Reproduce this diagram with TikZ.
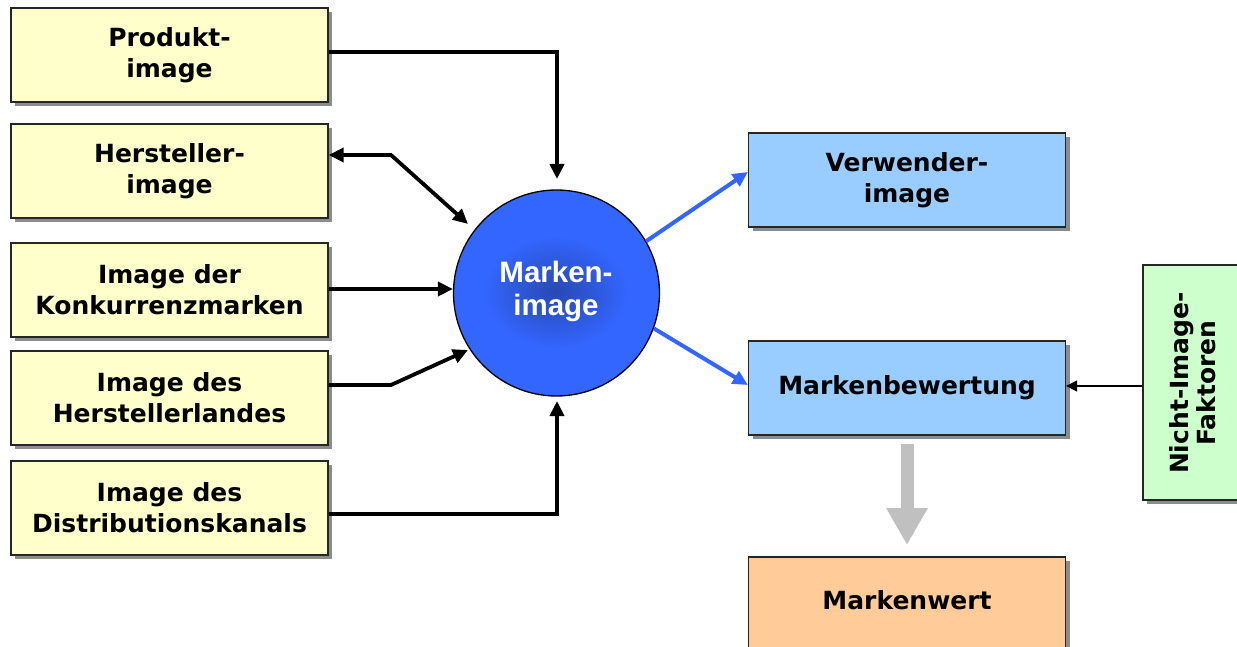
\documentclass[tikz,border=0pt]{standalone}
\usepackage{fontspec}
\setmainfont{DejaVu Sans}
\newfontfamily\circfont{Liberation Sans}
\usetikzlibrary{arrows.meta,shadows}

\definecolor{boxyellow}{HTML}{FFFFCC}
\definecolor{boxblue}{HTML}{99CCFF}
\definecolor{boxgreen}{HTML}{CCFFCC}
\definecolor{boxorange}{HTML}{FFCC99}
\definecolor{markblue}{HTML}{3366FF}
\definecolor{markdark}{HTML}{2848B4}
\definecolor{shadowgray}{HTML}{8C8C8C}
\definecolor{fatgray}{HTML}{C0C0C0}

\tikzset{
  card/.style={draw=black!85, line width=1.3pt, minimum width=317pt,
    minimum height=94pt, align=center, inner sep=0pt,
    font=\bfseries\fontsize{25}{31}\selectfont,
    drop shadow={shadow xshift=4pt, shadow yshift=-4pt, fill=shadowgray, opacity=1}},
  yellowcard/.style={card, fill=boxyellow},
  bluecard/.style={card, fill=boxblue},
  arr/.style={line width=3.8pt, -{Triangle[length=15pt,width=14pt]}},
  biarr/.style={line width=3.8pt, {Triangle[length=15pt,width=14pt]}-{Triangle[length=15pt,width=14pt]}},
  bluearr/.style={markblue, line width=4pt, -{Triangle[length=15pt,width=14pt]}},
  thinarr/.style={line width=1.6pt, -{Triangle[length=11pt,width=11pt]}},
}

\begin{document}
\begin{tikzpicture}[x=1pt, y=-1pt]
\useasboundingbox (0,0) rectangle (1237,647);

% influencing images
\node[yellowcard] (p1) at (169.5,55)  {Produkt-\\image};
\node[yellowcard] (p2) at (169.5,171) {Hersteller-\\image};
\node[yellowcard] (p3) at (169.5,290) {Image der\\Konkurrenzmarken};
\node[yellowcard] (p4) at (169.5,398) {Image des\\Herstellerlandes};
\node[yellowcard] (p5) at (169.5,508) {Image des\\Distributionskanals};

% brand image
\node[circle, draw=black, line width=1.3pt, fill=markblue, minimum size=206pt] (mi) at (556.5,293) {};
\shade[inner color=markdark, outer color=markblue] (556,292) ellipse (72 and 56);
\node[text=white, align=center, font=\circfont\bfseries\fontsize{29.5}{33}\selectfont] (mitxt) at (556,291) {Marken-\\image};

% outcomes
\node[bluecard] (v)  at (907,180) {Verwender-\\image};
\node[bluecard] (mb) at (907,388) {Markenbewertung};
\node[card, fill=boxorange] (mw) at (907,604) {};
\node[font=\bfseries\fontsize{25}{31}\selectfont] (mwtxt) at (907,600) {Markenwert};
\node[card, fill=boxgreen, minimum width=104pt, minimum height=235pt] (nb) at (1195,382.5) {};
\node[rotate=90, align=center, font=\bfseries\fontsize{25}{27}\selectfont] (nbtxt) at (1193,383) {Nicht-Image-\\Faktoren};

% helper points
\coordinate (c1) at (557,179);
\coordinate (b2) at (391,155);
\coordinate (t2) at (468,224);
\coordinate (b4) at (391,385);
\coordinate (t4) at (468,350);
\coordinate (c5) at (557,401);

% connectors into the brand image
\draw[arr] ([yshift=3pt]p1.east) -| (c1);
\draw[biarr] ([yshift=16pt]p2.east) -- (b2) -- (t2);
\draw[arr] ([yshift=1pt]p3.east) -- ([yshift=1pt]p3.east -| mi.west);
\draw[arr] ([yshift=13pt]p4.east) -- (b4) -- (t4);
\draw[arr] ([yshift=-6pt]p5.east) -| (c5);

% connectors out of the brand image
\draw[bluearr] (mi.30) -- ([yshift=8pt]v.west);
\draw[bluearr] (mi.-20) -- ([yshift=3pt]mb.west);
\draw[thinarr] ([yshift=2pt]mb.east -| nb.west) -- ([yshift=2pt]mb.east);

% result arrow
\draw[fatgray, line width=13pt, -{Triangle[length=37pt,width=39pt]}] ([yshift=-8pt]mb.south) -- (907,545);
\end{tikzpicture}
\end{document}
